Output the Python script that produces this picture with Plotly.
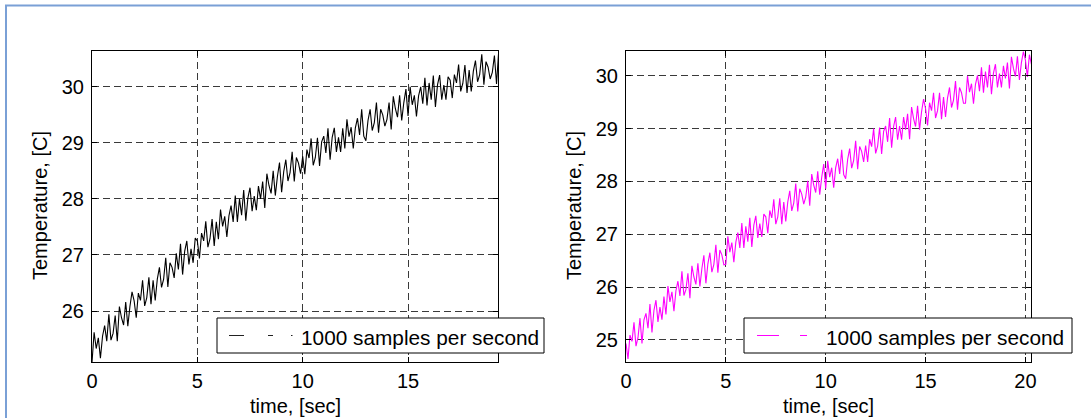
import numpy as np
import plotly.graph_objects as go

DT = 0.1  # seconds between listed samples

temp_left = [
    25.08, 25.62, 25.33, 25.52, 25.16, 25.55, 25.74, 25.46, 25.94, 25.48,
    25.60, 25.92, 25.46, 26.08, 25.88, 25.75, 26.16, 25.73, 26.08, 26.34,
    26.18, 25.88, 26.32, 26.19, 26.55, 26.09, 26.24, 26.60, 26.12, 26.55,
    26.19, 26.57, 26.78, 26.42, 26.57, 26.95, 26.43, 26.86, 26.78, 26.59,
    27.03, 26.74, 27.20, 26.65, 27.07, 27.25, 26.83, 27.11, 26.86, 27.30,
    27.25, 26.94, 27.39, 27.25, 27.60, 27.14, 27.29, 27.64, 27.16, 27.59,
    27.28, 27.81, 27.51, 27.69, 27.32, 27.70, 27.88, 27.59, 28.06, 27.59,
    28.00, 27.71, 28.16, 27.61, 28.02, 28.20, 27.78, 28.05, 27.80, 28.23,
    28.00, 28.31, 27.84, 28.45, 28.24, 28.10, 28.50, 28.06, 28.40, 28.65,
    28.12, 28.49, 28.70, 28.32, 28.47, 28.84, 28.31, 28.74, 28.64, 28.45,
    28.76, 28.44, 28.88, 28.73, 29.08, 28.60, 28.74, 29.09, 28.59, 29.02,
    29.12, 28.82, 29.26, 28.70, 29.10, 29.27, 28.84, 29.10, 28.84, 29.26,
    28.90, 29.42, 29.11, 29.28, 28.90, 29.27, 29.44, 29.14, 29.60, 29.12,
    29.04, 29.40, 29.60, 29.22, 29.36, 29.72, 29.18, 29.60, 29.50, 29.30,
    29.42, 29.72, 29.24, 29.83, 29.61, 29.46, 29.85, 29.40, 29.72, 29.96,
    29.48, 30.00, 29.68, 29.85, 29.47, 29.84, 30.00, 29.70, 30.16, 29.67,
    30.07, 29.77, 30.20, 29.64, 30.04, 30.21, 29.77, 30.03, 29.77, 30.18,
    30.12, 29.80, 30.22, 30.07, 30.40, 29.92, 30.06, 30.39, 29.89, 30.30,
    29.92, 30.28, 30.47, 30.09, 30.22, 30.58, 30.04, 30.45, 30.35, 30.14,
    30.26, 30.56, 30.05, 30.62,
]

temp_right = [
    24.93, 24.64, 25.09, 24.97, 25.33, 24.88, 25.04, 25.41, 24.93, 25.38,
    25.50, 25.22, 25.68, 25.14, 25.56, 25.75, 25.34, 25.62, 25.38, 25.82,
    25.48, 26.02, 25.72, 25.91, 25.54, 25.93, 26.11, 25.83, 26.30, 25.84,
    25.95, 26.26, 25.79, 26.40, 26.19, 26.05, 26.45, 26.01, 26.35, 26.60,
    26.07, 26.44, 26.65, 26.28, 26.43, 26.80, 26.27, 26.70, 26.61, 26.42,
    26.43, 26.96, 26.66, 26.84, 26.47, 26.85, 27.03, 26.74, 27.21, 26.74,
    27.15, 26.86, 27.31, 26.76, 27.17, 27.35, 26.93, 27.20, 26.95, 27.38,
    27.33, 27.02, 27.45, 27.31, 27.66, 27.19, 27.33, 27.68, 27.19, 27.61,
    27.24, 27.61, 27.82, 27.44, 27.59, 27.96, 27.43, 27.86, 27.76, 27.57,
    27.70, 28.01, 27.54, 28.14, 27.93, 27.79, 28.19, 27.75, 28.08, 28.33,
    27.86, 28.39, 28.08, 28.26, 27.88, 28.26, 28.43, 28.14, 28.60, 28.13,
    28.05, 28.42, 28.62, 28.25, 28.40, 28.77, 28.23, 28.66, 28.57, 28.37,
    28.68, 28.37, 28.80, 28.66, 29.00, 28.53, 28.67, 29.02, 28.52, 28.95,
    29.05, 28.75, 29.20, 28.64, 29.04, 29.22, 28.79, 29.05, 28.79, 29.22,
    28.98, 29.28, 28.80, 29.41, 29.19, 29.04, 29.43, 28.98, 29.32, 29.56,
    29.38, 29.06, 29.49, 29.34, 29.68, 29.20, 29.34, 29.68, 29.18, 29.60,
    29.22, 29.58, 29.78, 29.40, 29.54, 29.90, 29.36, 29.78, 29.68, 29.48,
    29.48, 30.00, 29.69, 29.85, 29.47, 29.84, 30.01, 29.71, 30.16, 29.68,
    30.08, 29.78, 30.21, 29.65, 30.05, 30.22, 29.78, 30.04, 29.78, 30.19,
    29.95, 30.25, 29.76, 30.36, 30.14, 29.99, 30.37, 29.92, 30.25, 30.46,
    30.30, 29.98, 30.40, 30.22,
]

x_ticks_left = [0, 5, 10, 15]
x_ticks_right = [0, 5, 10, 15, 20]
y_ticks_left = [26, 27, 28, 29, 30]
y_ticks_right = [25, 26, 27, 28, 29, 30]

legend_text = "1000 samples per second"
x_title = "time, [sec]"
y_title = "Temperature, [C]"

# ---------------- figure ----------------
W, H = 1091, 418
FONT = "Liberation Sans, Arial, sans-serif"
FS = 20
FS_LEG = 20.8

t_left = np.arange(len(temp_left)) * DT
t_right = np.arange(len(temp_right)) * DT


def px(x):
    return x / W


def py(y):
    return 1 - y / H


fig = go.Figure()
fig.add_trace(go.Scatter(x=t_left, y=temp_left, mode="lines",
                         line=dict(color="black", width=1.1),
                         xaxis="x", yaxis="y", showlegend=False, hoverinfo="skip"))
fig.add_trace(go.Scatter(x=t_right, y=temp_right, mode="lines",
                         line=dict(color="#ff00ff", width=1.1),
                         xaxis="x2", yaxis="y2", showlegend=False, hoverinfo="skip"))

common = dict(
    showline=True, linecolor="black", linewidth=1, mirror="ticks",
    ticks="inside", ticklen=5, tickcolor="black", tickwidth=1,
    showgrid=True, gridcolor="#3a3a3a", gridwidth=1, griddash="7px,4px",
    zeroline=False, automargin=False,
    tickfont=dict(family=FONT, size=FS, color="black"),
)

fig.update_layout(
    width=W, height=H,
    margin=dict(l=0, r=0, t=0, b=0, pad=0, autoexpand=False),
    paper_bgcolor="white", plot_bgcolor="white",
    showlegend=False,
    xaxis=dict(domain=[px(92), px(498)], range=[0, 19.27], tickvals=x_ticks_left,
               anchor="y", ticklabelstandoff=1, **common),
    yaxis=dict(domain=[py(362), py(51)], range=[25.09, 30.64], tickvals=y_ticks_left,
               anchor="x", ticklabelstandoff=3, **common),
    xaxis2=dict(domain=[px(626), px(1031)], range=[0, 20.28], tickvals=x_ticks_right,
                anchor="y2", ticklabelstandoff=1, **common),
    yaxis2=dict(domain=[py(362), py(51)], range=[24.58, 30.47], tickvals=y_ticks_right,
                anchor="x2", ticklabelstandoff=3, **common),
)

shapes = []
annotations = []

# outer blue frame (extends past right/bottom edges)
shapes.append(dict(type="rect", xref="paper", yref="paper",
                   x0=px(6), x1=1.2, y0=-0.2, y1=py(5.5),
                   line=dict(color="#7aa0d6", width=2), fillcolor="rgba(0,0,0,0)",
                   layer="above"))

# manual legends
legends = [
    dict(x0=217, x1=544, color="#222222", segs=[(229, 244), (268, 273), (291, 292.5)], tx=299),
    dict(x0=744, x1=1072, color="#ff00ff", segs=[(757, 779), (800, 807)], tx=824),
]
for lg in legends:
    shapes.append(dict(type="rect", xref="paper", yref="paper",
                       x0=px(lg["x0"]), x1=px(lg["x1"]), y0=py(353), y1=py(318),
                       line=dict(color="black", width=1), fillcolor="white", layer="above"))
    for a, b in lg["segs"]:
        shapes.append(dict(type="line", xref="paper", yref="paper",
                           x0=px(a), x1=px(b), y0=py(335.5), y1=py(335.5),
                           line=dict(color=lg["color"], width=1), layer="above"))
    annotations.append(dict(text=legend_text, xref="paper", yref="paper",
                            x=px(lg["tx"]), y=py(337), xanchor="left", yanchor="middle",
                            showarrow=False, font=dict(family=FONT, size=FS_LEG, color="black")))

# axis titles
for cx in (295, 828.5):
    annotations.append(dict(text=x_title, xref="paper", yref="paper",
                            x=px(cx), y=py(406), xanchor="center", yanchor="middle",
                            showarrow=False, font=dict(family=FONT, size=FS, color="black")))
for cx in (40, 574):
    annotations.append(dict(text=y_title, xref="paper", yref="paper",
                            x=px(cx), y=py(206), xanchor="center", yanchor="middle",
                            textangle=-90, showarrow=False,
                            font=dict(family=FONT, size=FS, color="black")))

fig.update_layout(shapes=shapes, annotations=annotations)
fig.write_html("out.html", config={"displayModeBar": False},
               post_script="document.body.style.margin='0px';document.body.style.overflow='hidden';")
